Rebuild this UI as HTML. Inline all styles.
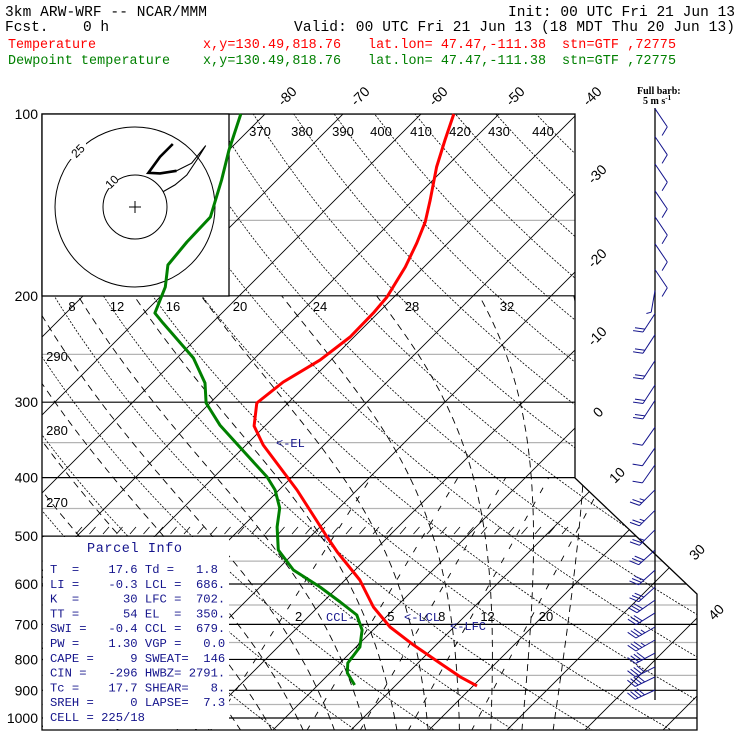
<!DOCTYPE html>
<html><head><meta charset="utf-8"><style>
html,body{margin:0;padding:0;background:#fff;}
svg{display:block;}
.mono{font-family:"Liberation Mono",monospace;}
.pre{white-space:pre;}
</style></head><body>
<svg id="chart" width="740" height="740" viewBox="0 0 740 740" xmlns="http://www.w3.org/2000/svg">
<defs><clipPath id="gridclip"><path d="M42,114 L575,114 L575,478 L697,594 L697,730 L42,730 Z"/></clipPath></defs>
<g id="header" class="mono" font-size="14.5">
<text x="5" y="16" textLength="202">3km ARW-WRF -- NCAR/MMM</text>
<text x="508" y="16" textLength="227">Init: 00 UTC Fri 21 Jun 13</text>
<text x="5" y="31">Fcst.</text>
<text x="83" y="31">0 h</text>
<text x="294" y="31" textLength="441">Valid: 00 UTC Fri 21 Jun 13 (18 MDT Thu 20 Jun 13)</text>
<g fill="#ff0000" font-size="13.4">
<text x="8" y="48" textLength="88">Temperature</text>
<text x="203" y="48" textLength="138">x,y=130.49,818.76</text>
<text x="368" y="48" textLength="178">lat.lon= 47.47,-111.38</text>
<text x="562" y="48" textLength="114">stn=GTF ,72775</text>
</g>
<g fill="#008000" font-size="13.4">
<text x="8" y="64" textLength="162">Dewpoint temperature</text>
<text x="203" y="64" textLength="138">x,y=130.49,818.76</text>
<text x="368" y="64" textLength="178">lat.lon= 47.47,-111.38</text>
<text x="562" y="64" textLength="114">stn=GTF ,72775</text>
</g>
</g>
<g id="grid" clip-path="url(#gridclip)"></g>
<rect x="43" y="537" width="186" height="192" fill="#fff"/>
<g id="frame" fill="none" stroke="#000" stroke-width="1.3">
<path d="M42,114 L575,114 L575,478 L697,594 L697,730 L42,730 Z"/>
</g>
<g id="labels"></g>
<g id="hodo"></g>
<g id="profiles"></g>
<g id="barbs"></g>
<g font-family="Liberation Serif,serif" font-weight="bold" font-size="10">
<text x="637" y="94">Full barb:</text>
<text x="643" y="104">5 m s<tspan font-size="7" dy="-4">-1</tspan></text>
</g>
<g id="parcel" class="mono" fill="#14148c" font-size="12.2"></g>
</svg>
<script>
// ---- data ----
const tempP = [100,110.4,122.4,138.8,151,163.5,179.2,201,213.6,234,255.5,277.8,301,328.5,353.2,419.3,501.7,531,591,655,707,757,811,855,885];
const tempT = [-55.8,-53.6,-51.2,-47.8,-45.6,-44.0,-42.4,-40.9,-40.6,-40.5,-41.4,-43.3,-44.0,-41.4,-37.8,-27.7,-17.8,-14.6,-8.1,-2.9,1.8,7.1,12.8,17.2,20.5];
const dewP = [100,114.7,128.6,148.1,162.9,177.8,193.4,213.6,221.8,253.5,278.9,301,327.4,366.9,399,419.3,449.1,482.9,527.1,568.8,607,642.6,675.3,715,763,811,842,882];
const dewT = [-83.1,-80.0,-77.1,-73.8,-73.6,-73.1,-70.6,-68.6,-66.3,-57.9,-53.2,-50.5,-45.9,-38.6,-33.2,-30.5,-27.6,-25.5,-22.4,-17.9,-12.3,-7.8,-4.0,-1.4,0.5,1.0,2.2,4.7];
const barbP = [98,109,121,134,148,164,181,196,214,232,256,281,298,330,357,381,419,453,488,527,569,607,638,670,707,743,781,823,855,899];
const barbDir = [146,146,146,146,146,146,146,190,213,213,213,213,213,215,215,215,225,225,225,228,228,228,235,238,240,240,242,243,244,245];
const barbSpd = [5,5,5,5,5,5,5,3,10,10,10,10,10,6,6,6,12,12,12,15,15,15,15,15,17,17,20,20,20,20];
const hodoU = [11.8,7.8,4.2,7.8,13.0,17.7,22.1,19.3,16.2,12.5,8.8];
const hodoV = [19.7,15.7,10.7,10.5,11.3,13.7,19.2,14.7,10.0,6.9,4.8];
const isoTemps = [-120,-110,-100,-90,-80,-70,-60,-50,-40,-30,-20,-10,0,10,20,30,40,50];
const thetas = [240,250,260,270,280,290,300,310,320,330,340,350,360,370,380,390,400,410,420,430,440,450,460,470];
const moistStart = [-12,-8,-4,0,4,8,12,16,20,24,28,32,36];
const mixRatios = [2,5,8,12,20];
const blackP = [100,200,300,400,500,600,700,800,900,1000];
const grayP = [150,250,350,450,550,650,750,850,950];

// ---- axes ----
const NS='http://www.w3.org/2000/svg';
function yP(p){return 114+262.3*Math.log(p/100);}
function xT(T,p){return 889+7.8*T-(yP(p)-114);}
function el(tag,attrs,parent){const e=document.createElementNS(NS,tag);for(const k in attrs)e.setAttribute(k,attrs[k]);parent.appendChild(e);return e;}
const grid=document.getElementById('grid');

grayP.forEach(p=>{const l=el('line',{x1:42,x2:700,y1:yP(p),y2:yP(p),stroke:'#b4b4b4','stroke-width':1.2},grid);

});
blackP.forEach(p=>{const l=el('line',{x1:42,x2:700,y1:yP(p),y2:yP(p),stroke:'#000','stroke-width':1.2},grid);

});
isoTemps.forEach(T=>{const l=el('line',{x1:xT(T,1100),y1:yP(1100),x2:xT(T,90),y2:yP(90),stroke:'#000','stroke-width':0.9},grid);

});
thetas.forEach(th=>{let pts=[];for(let p=1100;p>=90;p-=10){const T=th*Math.pow(p/1000,0.2857)-273.15;pts.push(xT(T,p).toFixed(1)+','+yP(p).toFixed(1));}
const l=el('polyline',{points:pts.join(' '),fill:'none',stroke:'#000','stroke-width':0.8,'stroke-dasharray':'2,1.5'},grid);

});
function es(T){return 6.112*Math.exp(17.67*T/(T+243.5));}
moistStart.forEach(T0=>{let T=T0+273.15,pts=[];for(let p=1050;p>=200;p-=5){
 pts.push(xT(T-273.15,p).toFixed(1)+','+yP(p).toFixed(1));
 const e=es(T-273.15),rs=0.622*e/(p-e),Lv=2.5e6,Rd=287,Cp=1005;
 const dTdp=(Rd*T+Lv*rs)/(p*(Cp+Lv*Lv*rs*0.622/(Rd*T*T)));T-=dTdp*5;}
 const l=el('polyline',{points:pts.join(' '),fill:'none',stroke:'#000','stroke-width':0.9,'stroke-dasharray':'7,5'},grid);
 
 });
function tdFromW(w,p){const e=w*p/(622+w);const a=Math.log(e/6.112);return 243.5*a/(17.67-a);}
mixRatios.forEach(w=>{const l=el('line',{x1:xT(tdFromW(w,1050),1050),y1:yP(1050),x2:xT(tdFromW(w,400),400),y2:yP(400),stroke:'#000','stroke-width':0.9,'stroke-dasharray':'6,10'},grid);

});
for(let x=76;x<570;x+=13.5){const t=el('line',{x1:x,y1:534,x2:x+6,y2:527,stroke:'#000','stroke-width':0.8},grid);

}

// ---- labels ----
const lab=document.getElementById('labels');
function txt(s,x,y,opt,parent,name){const t=el('text',Object.assign({x:x,y:y,'font-family':'Liberation Sans,sans-serif','font-size':13,'text-anchor':'middle'},opt||{}),parent);t.textContent=s;

return t;}
blackP.forEach(p=>txt(String(p),38,yP(p)+5,{'text-anchor':'end','font-size':14},lab,'pressure-label'));
const isoLab=[['-80',287,96],['-70',360,96],['-60',438,96],['-50',515,96],['-40',592,96],['-30',597,174],['-20',597,258],['-10',597,336],['0',598,412],['10',617,475],['30',697,552],['40',716,612]];
isoLab.forEach(a=>txt(a[0],a[1],a[2]+5,{transform:`rotate(-45 ${a[1]} ${a[2]})`,'font-size':14},lab,'isotherm-label'));
[['370',260],['380',302],['390',343],['400',381],['410',421],['420',460],['430',499],['440',543]].forEach(a=>txt(a[0],a[1],136,{},lab,'theta-label'));
[['290',356],['280',430],['270',502]].forEach(a=>txt(a[0],57,a[1]+5,{},lab,'theta-label'));
[['8',72],['12',117],['16',173],['20',240],['24',320],['28',412],['32',507]].forEach(a=>txt(a[0],a[1],311,{},lab,'scale-label'));
txt('kts',58,293,{'letter-spacing':'2'},lab,'kts-label');
mixRatios.forEach(w=>{const x=xT(tdFromW(w,700),700)+22;txt(String(w),Math.min(x,546),621,{},lab,'mixing-ratio-label');});
const bl={fill:'#14148c','font-size':12,'text-anchor':'start','font-family':'Liberation Mono,monospace'};
txt('<-EL',276,447,bl,lab,'el-marker');
txt('CCL-',326,621,bl,lab,'ccl-marker');
txt('<-LCL',404,621,bl,lab,'lcl-marker');
txt('<-LFC',450,630,bl,lab,'lfc-marker');
txt('M',324,541,Object.assign({},bl,{'font-size':10}),lab,'m-marker');

// ---- hodograph ----
const hodo=document.getElementById('hodo');
let r=el('rect',{x:42,y:114,width:187,height:182,fill:'#fff',stroke:'#000','stroke-width':1.3},hodo);


const hc=[135,207],hs=3.2;
[10,25].forEach(k=>{const c=el('circle',{cx:hc[0],cy:hc[1],r:k*hs,fill:'none',stroke:'#000','stroke-width':1},hodo);

});
el('rect',{x:104,y:176,width:14,height:12,fill:'#fff'},hodo);
el('rect',{x:70,y:143,width:16,height:16,fill:'#fff'},hodo);
txt('10',112,186,{transform:'rotate(-45 112 182)','font-size':12},hodo,'ring-label-10');
txt('25',78,155,{transform:'rotate(-45 78 151)','font-size':12},hodo,'ring-label-25');
let cr=el('path',{d:`M${hc[0]-6},${hc[1]} h12 M${hc[0]},${hc[1]-6} v12`,stroke:'#000','stroke-width':1},hodo);


const hp=hodoU.map((u,i)=>[(hc[0]+u*hs).toFixed(1),(hc[1]-hodoV[i]*hs).toFixed(1)]);
let h1=el('polyline',{points:hp.slice(0,5).map(a=>a.join(',')).join(' '),fill:'none',stroke:'#000','stroke-width':2.6},hodo);


let h2=el('polyline',{points:hp.slice(4).map(a=>a.join(',')).join(' '),fill:'none',stroke:'#000','stroke-width':1.1},hodo);



// ---- profiles ----
const prof=document.getElementById('profiles');
let tl=el('polyline',{points:tempP.map((p,i)=>xT(tempT[i],p).toFixed(1)+','+yP(p).toFixed(1)).join(' '),fill:'none',stroke:'#ff0000','stroke-width':3,'stroke-linejoin':'round'},prof);


let dl=el('polyline',{points:dewP.map((p,i)=>xT(dewT[i],p).toFixed(1)+','+yP(p).toFixed(1)).join(' '),fill:'none',stroke:'#008000','stroke-width':3,'stroke-linejoin':'round'},prof);



// ---- barbs ----
const bg=document.getElementById('barbs');
let st=el('line',{x1:655,y1:108,x2:655,y2:700,stroke:'#000','stroke-width':1.3},bg);


barbP.forEach((p,i)=>{const d=barbDir[i]*Math.PI/180,y0=yP(p),L=22;
 const vx=Math.sin(d),vy=-Math.cos(d);const tx=655+vx*L,ty=y0+vy*L;
 const ang=Math.atan2(vy,vx)+65*Math.PI/180;const fx=Math.cos(ang),fy=Math.sin(ang);
 let path=`M655,${y0.toFixed(1)} L${tx.toFixed(1)},${ty.toFixed(1)}`;
 let s=barbSpd[i],k=0;
 while(s>=4){const bx=tx-vx*k*3.5,by=ty-vy*k*3.5;path+=` M${bx.toFixed(1)},${by.toFixed(1)} l${(fx*10).toFixed(1)},${(fy*10).toFixed(1)}`;s-=5;k++;}
 if(s>=2){const bx=tx-vx*k*3.5,by=ty-vy*k*3.5;path+=` M${bx.toFixed(1)},${by.toFixed(1)} l${(fx*5).toFixed(1)},${(fy*5).toFixed(1)}`;}
 const b=el('path',{d:path,fill:'none',stroke:'#14148c','stroke-width':1},bg);
 
 
});

// ---- parcel info ----
const pg=document.getElementById('parcel');
const rows=["T  =    17.6 Td =   1.8","LI =    -0.3 LCL =  686.","K  =      30 LFC =  702.","TT =      54 EL  =  350.","SWI =   -0.4 CCL =  679.","PW =    1.30 VGP =   0.0","CAPE =     9 SWEAT=  146","CIN =   -296 HWBZ= 2791.","Tc =    17.7 SHEAR=   8.","SREH =     0 LAPSE=  7.3","CELL = 225/18"];
let ti=el('text',{x:87,y:552,'font-size':13.5,textLength:95},pg);ti.textContent='Parcel Info';


rows.forEach((s,i)=>{const t=el('text',{x:50,y:573+i*14.8,'class':'pre'},pg);t.textContent=s;
 t.setAttribute('textLength',(s.length*7.3).toFixed(1));
 t.setAttribute('lengthAdjust','spacingAndGlyphs');
 
 });
</script>
</body></html>
